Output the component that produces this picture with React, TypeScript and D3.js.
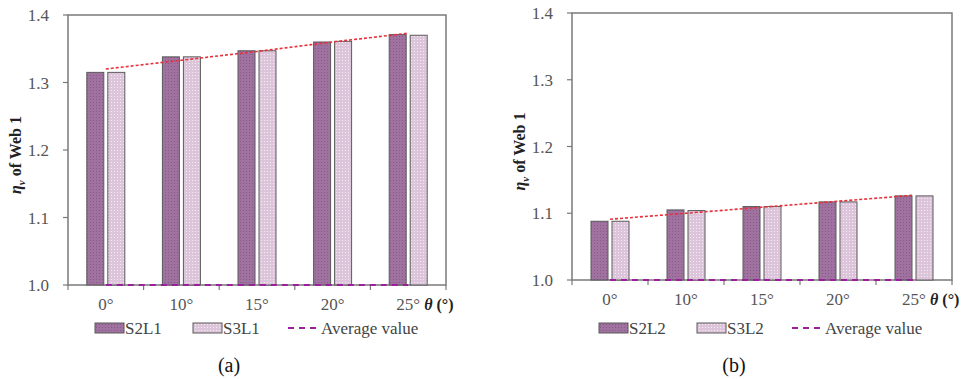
import React, { useEffect, useRef } from "react";
import * as d3 from "d3";

// categories (inclination angle)
const angles = ["0°", "10°", "15°", "20°", "25°"];

// panel (a)
const s2l1 = [1.315, 1.338, 1.347, 1.36, 1.371];
const s3l1 = [1.315, 1.338, 1.347, 1.361, 1.37];
const avgA = [1.0, 1.0, 1.0, 1.0, 1.0];
const trendA = [1.32, 1.333, 1.346, 1.36, 1.373];

// panel (b)
const s2l2 = [1.088, 1.105, 1.11, 1.117, 1.126];
const s3l2 = [1.088, 1.104, 1.11, 1.117, 1.126];
const avgB = [1.0, 1.0, 1.0, 1.0, 1.0];
const trendB = [1.091, 1.1, 1.109, 1.118, 1.127];

const yTicks = [1.0, 1.1, 1.2, 1.3, 1.4];

const FONT = "Liberation Serif";

type PanelOpts = {
   id: string;
   x0: number;
   x1: number;
   yTop: number;
   yBot: number;
   dark: number[];
   light: number[];
   avg: number[];
   trend: number[];
   names: [string, string];
   caption: string;
};

const txt = (sel: any, size: number, fill: string) =>
   sel.append("text").style("font-family", FONT).style("font-size", `${size}px`).attr("fill", fill);

const drawPanel = (svg: any, o: PanelOpts) => {
   const g = svg.append("g");

   const x = d3.scaleBand().domain(angles).range([o.x0, o.x1]).padding(0);
   const y = d3.scaleLinear().domain([1.0, 1.4]).range([o.yBot, o.yTop]);
   const barW = 17;
   const gap = 4;

   // plot frame
   g.append("rect")
      .attr("x", o.x0)
      .attr("y", o.yTop)
      .attr("width", o.x1 - o.x0)
      .attr("height", o.yBot - o.yTop)
      .attr("fill", "none")
      .attr("stroke", "#7a7a7a")
      .attr("stroke-width", 1.5);

   // y ticks + labels
   yTicks.forEach((t) => {
      g.append("line")
         .attr("x1", o.x0 - 5)
         .attr("x2", o.x0)
         .attr("y1", y(t))
         .attr("y2", y(t))
         .attr("stroke", "#7a7a7a")
         .attr("stroke-width", 1.2);
      txt(g, 17, "#555")
         .attr("x", o.x0 - 19)
         .attr("y", y(t) + 6)
         .attr("text-anchor", "end")
         .text(t.toFixed(1));
   });

   // x boundary ticks
   const bounds = angles.map((a) => x(a) as number).concat([o.x1]);
   bounds.forEach((b) => {
      g.append("line")
         .attr("x1", b)
         .attr("x2", b)
         .attr("y1", o.yBot)
         .attr("y2", o.yBot + 5)
         .attr("stroke", "#7a7a7a")
         .attr("stroke-width", 1.2);
   });

   const cx = (a: string) => (x(a) as number) + x.bandwidth() / 2;

   // bars
   const series = [
      { vals: o.dark, fill: `url(#pd-${o.id})`, off: -gap / 2 - barW },
      { vals: o.light, fill: `url(#pl-${o.id})`, off: gap / 2 },
   ];
   series.forEach((s) => {
      g.selectAll(null)
         .data(s.vals)
         .enter()
         .append("rect")
         .attr("x", (_d: number, i: number) => cx(angles[i]) + s.off)
         .attr("y", (d: number) => y(d))
         .attr("width", barW)
         .attr("height", (d: number) => o.yBot - y(d))
         .attr("fill", s.fill)
         .attr("stroke", "#5a5a5a")
         .attr("stroke-width", 1);
   });

   const line = d3
      .line<number>()
      .x((_d, i) => cx(angles[i]))
      .y((d) => y(d));

   // average value (purple dashed) on the baseline
   g.append("path")
      .attr("d", line(o.avg))
      .attr("fill", "none")
      .attr("stroke", "#9b1f9b")
      .attr("stroke-width", 2)
      .attr("stroke-dasharray", "6,5");

   // linear trend (red dashed)
   g.append("path")
      .attr("d", line(o.trend))
      .attr("fill", "none")
      .attr("stroke", "#e8303a")
      .attr("stroke-width", 1.6)
      .attr("stroke-dasharray", "3,2");

   // x labels
   angles.forEach((a) => {
      txt(g, 17, "#555")
         .attr("x", cx(a))
         .attr("y", o.yBot + 25)
         .attr("text-anchor", "middle")
         .text(a);
   });
   const th = txt(g, 16, "#222")
      .attr("x", cx(angles[4]) + 16)
      .attr("y", o.yBot + 25);
   th.append("tspan").style("font-weight", "bold").style("font-style", "italic").text("θ");
   th.append("tspan").style("font-weight", "bold").text(" (°)");

   // y axis title
   const yl = txt(g, 16, "#222")
      .attr("transform", `translate(${o.x0 - 47},${(o.yTop + o.yBot) / 2 + 5}) rotate(-90)`)
      .attr("text-anchor", "middle")
      .style("font-weight", "bold");
   yl.append("tspan").style("font-style", "italic").text("η");
   yl.append("tspan").style("font-size", "11px").style("font-style", "italic").attr("dy", 4).text("v");
   yl.append("tspan").attr("dy", -4).text(" of Web 1");

   // legend
   const ly = 328;
   const lx = o.x0 + 27;
   g.append("rect")
      .attr("x", lx)
      .attr("y", ly - 5)
      .attr("width", 29)
      .attr("height", 10)
      .attr("fill", `url(#pd-${o.id})`)
      .attr("stroke", "#5a5a5a");
   txt(g, 17, "#444")
      .attr("x", lx + 30)
      .attr("y", ly + 6)
      .text(o.names[0]);
   g.append("rect")
      .attr("x", lx + 98)
      .attr("y", ly - 5)
      .attr("width", 29)
      .attr("height", 10)
      .attr("fill", `url(#pl-${o.id})`)
      .attr("stroke", "#5a5a5a");
   txt(g, 17, "#444")
      .attr("x", lx + 128)
      .attr("y", ly + 6)
      .text(o.names[1]);
   g.append("line")
      .attr("x1", lx + 193)
      .attr("x2", lx + 224)
      .attr("y1", ly)
      .attr("y2", ly)
      .attr("stroke", "#9b1f9b")
      .attr("stroke-width", 2)
      .attr("stroke-dasharray", "6,5");
   txt(g, 17, "#444")
      .attr("x", lx + 226)
      .attr("y", ly + 6)
      .text("Average value");

   // caption
   txt(svg, 20, "#111")
      .attr("x", (o.x0 + o.x1) / 2 - 28)
      .attr("y", 372)
      .attr("text-anchor", "middle")
      .text(o.caption);
};

const App = () => {
   const svgRef = useRef<SVGSVGElement>(null);

   useEffect(() => {
      const svg = d3.select(svgRef.current);
      svg.selectAll("*").remove();

      const defs = svg.append("defs");
      ["a", "b"].forEach((id) => {
         const pd = defs
            .append("pattern")
            .attr("id", `pd-${id}`)
            .attr("patternUnits", "userSpaceOnUse")
            .attr("width", 3)
            .attr("height", 3);
         pd.append("rect").attr("width", 3).attr("height", 3).attr("fill", "#a072a0");
         pd.append("rect").attr("width", 1).attr("height", 1).attr("fill", "#885888");

         const pl = defs
            .append("pattern")
            .attr("id", `pl-${id}`)
            .attr("patternUnits", "userSpaceOnUse")
            .attr("width", 3)
            .attr("height", 3);
         pl.append("rect").attr("width", 3).attr("height", 3).attr("fill", "#dcc4da");
         pl.append("rect").attr("width", 1).attr("height", 1).attr("fill", "#f4ecf3");
      });

      drawPanel(svg, {
         id: "a",
         x0: 68,
         x1: 446,
         yTop: 15,
         yBot: 285,
         dark: s2l1,
         light: s3l1,
         avg: avgA,
         trend: trendA,
         names: ["S2L1", "S3L1"],
         caption: "(a)",
      });
      drawPanel(svg, {
         id: "b",
         x0: 572,
         x1: 952,
         yTop: 13,
         yBot: 280,
         dark: s2l2,
         light: s3l2,
         avg: avgB,
         trend: trendB,
         names: ["S2L2", "S3L2"],
         caption: "(b)",
      });
   }, []);

   return (
      <svg
         ref={svgRef}
         width={962}
         height={379}
         style={{ position: "absolute", left: 0, top: 0, background: "#fff" }}
      ></svg>
   );
};

export default App;
